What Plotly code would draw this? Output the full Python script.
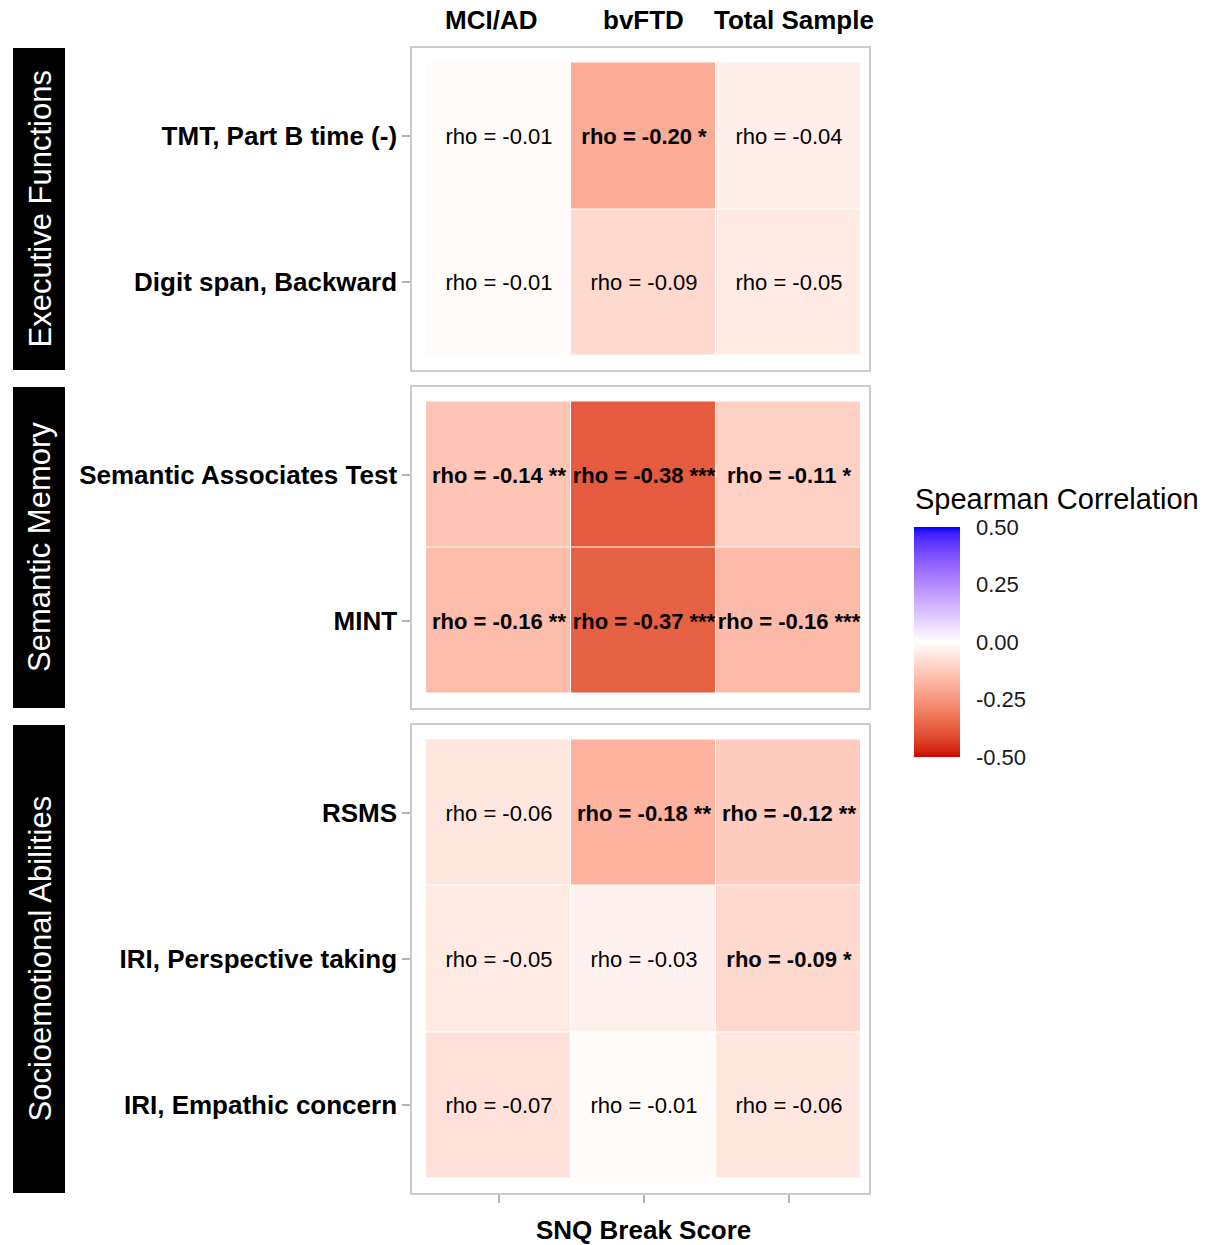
import plotly.graph_objects as go
from plotly.subplots import make_subplots

# ---------------- data ----------------
columns = ["MCI/AD", "bvFTD", "Total Sample"]
domains = ["Executive Functions", "Semantic Memory", "Socioemotional Abilities"]
measures = [
    ["TMT, Part B time (-)", "Digit span, Backward"],
    ["Semantic Associates Test", "MINT"],
    ["RSMS", "IRI, Perspective taking", "IRI, Empathic concern"],
]
rho_mci = [-0.01, -0.01, -0.14, -0.158, -0.06, -0.05, -0.07]
rho_bvftd = [-0.20, -0.09, -0.38, -0.37, -0.18, -0.03, -0.01]
rho_total = [-0.04, -0.05, -0.11, -0.164, -0.12, -0.09, -0.06]
sig_mci = ["", "", "**", "**", "", "", ""]
sig_bvftd = ["*", "", "***", "***", "**", "", ""]
sig_total = ["", "", "*", "***", "**", "*", ""]
cbar_ticks = [-0.50, -0.25, 0.00, 0.25, 0.50]

# ---------------- colour scale (Lab interpolation, like ggplot gradient2) ----------------
def _lin(c):
    c = c / 255
    return c / 12.92 if c <= 0.04045 else ((c + 0.055) / 1.055) ** 2.4

def _delin(c):
    c = 12.92 * c if c <= 0.0031308 else 1.055 * max(c, 0) ** (1 / 2.4) - 0.055
    return max(0, min(255, round(c * 255)))

def hex_to_lab(h):
    r, g, b = [_lin(int(h[i:i + 2], 16)) for i in (1, 3, 5)]
    X = (0.4124 * r + 0.3576 * g + 0.1805 * b) / 0.95047
    Y = 0.2126 * r + 0.7152 * g + 0.0722 * b
    Z = (0.0193 * r + 0.1192 * g + 0.9505 * b) / 1.08883
    f = lambda t: t ** (1 / 3) if t > 0.008856 else 7.787 * t + 16 / 116
    return 116 * f(Y) - 16, 500 * (f(X) - f(Y)), 200 * (f(Y) - f(Z))

def lab_to_hex(L, a, b):
    fy = (L + 16) / 116
    fx = fy + a / 500
    fz = fy - b / 200
    finv = lambda t: t ** 3 if t ** 3 > 0.008856 else (t - 16 / 116) / 7.787
    X, Y, Z = finv(fx) * 0.95047, finv(fy), finv(fz) * 1.08883
    r = 3.2406 * X - 1.5372 * Y - 0.4986 * Z
    g = -0.9689 * X + 1.8758 * Y + 0.0415 * Z
    bb = 0.0557 * X - 0.2040 * Y + 1.0570 * Z
    return "#%02x%02x%02x" % (_delin(r), _delin(g), _delin(bb))

LOW, MID, HIGH = "#CD0000", "#FFFFFF", "#0000FF"
lo, mi, hi = hex_to_lab(LOW), hex_to_lab(MID), hex_to_lab(HIGH)
colorscale = []
N = 40
for i in range(N + 1):
    t = i / N
    if t <= 0.5:
        w = t / 0.5
        lab = [lo[k] + (mi[k] - lo[k]) * w for k in range(3)]
    else:
        w = (t - 0.5) / 0.5
        lab = [mi[k] + (hi[k] - mi[k]) * w for k in range(3)]
    colorscale.append([t, lab_to_hex(*lab)])

# ---------------- layout geometry (pixels) ----------------
W, H = 1209, 1245
px = lambda x: x / W
py = lambda y: 1 - y / H
panels_px = [(48, 370), (387, 708), (725, 1193)]
x_left, x_right = 412, 869
colw = 145.0
FONT = "Liberation Sans, Arial, Helvetica, sans-serif"

fig = make_subplots(rows=3, cols=1)

all_rho = [rho_mci, rho_bvftd, rho_total]
all_sig = [sig_mci, sig_bvftd, sig_total]

idx = 0
for p, rows in enumerate(measures):
    z, txt = [], []
    for r, _m in enumerate(rows):
        zr, tr = [], []
        for c in range(3):
            v = all_rho[c][idx + r]
            s = all_sig[c][idx + r]
            zr.append(v)
            label = f"rho = {v:.2f}" + (f" {s}" if s else "")
            tr.append(f"<b>{label}</b>" if s else label)
        z.append(zr)
        txt.append(tr)
    idx += len(rows)
    fig.add_trace(
        go.Heatmap(
            z=z, x=[0, 1, 2], y=list(range(len(rows))),
            text=txt, texttemplate="%{text}",
            textfont=dict(size=22, color="black", family=FONT),
            coloraxis="coloraxis", xgap=1, ygap=1, hoverinfo="skip",
        ),
        row=p + 1, col=1,
    )
    y0, y1 = panels_px[p]
    n = len(rows)
    rowh = (y1 - y0 - 29) / n
    pad = 14.5 / rowh
    ax = "" if p == 0 else str(p + 1)
    fig.layout["xaxis" + ax].update(
        domain=[px(x_left), px(x_right)],
        range=[-0.5 - 14 / colw, 2.5 + 8 / colw],
        tickvals=[0, 1, 2], showticklabels=False,
        ticks="outside" if p == 2 else "", ticklen=8, tickcolor="#B3B3B3", tickwidth=1.5,
        showgrid=False, zeroline=False,
        showline=True, mirror=True, linecolor="#CCCCCC", linewidth=1.5,
    )
    fig.layout["yaxis" + ax].update(
        domain=[py(y1), py(y0)],
        range=[n - 0.5 + pad, -0.5 - pad],
        tickvals=list(range(n)), ticktext=rows,
        tickfont=dict(size=26, color="black", family=FONT, weight="bold"),
        ticks="outside", ticklen=8, tickcolor="#B3B3B3", tickwidth=1.5,
        ticklabelstandoff=0,
        showgrid=False, zeroline=False,
        showline=True, mirror=True, linecolor="#CCCCCC", linewidth=1.5,
    )
    # strip
    fig.add_shape(type="rect", xref="paper", yref="paper",
                  x0=px(13), x1=px(65), y0=py(y1), y1=py(y0),
                  fillcolor="black", line=dict(width=0))
    fig.add_annotation(text=domains[p], xref="paper", yref="paper",
                       x=px(39.5), y=py((y0 + y1) / 2), textangle=-90,
                       xanchor="center", yanchor="middle",
                       showarrow=False, font=dict(size=31, color="white", family=FONT))

# column headers
header_px = [491, 643, 794]
for name, hx in zip(columns, header_px):
    fig.add_annotation(text=f"<b>{name}</b>", xref="paper", yref="paper",
                       x=px(hx), y=py(20), xanchor="center", yanchor="middle",
                       showarrow=False,
                       font=dict(size=26, color="black", family=FONT))

# x title
fig.add_annotation(text="<b>SNQ Break Score</b>", xref="paper", yref="paper",
                   x=px(643), y=py(1230), xanchor="center", yanchor="middle",
                   showarrow=False,
                   font=dict(size=26, color="black", family=FONT))

# colour bar title
fig.add_annotation(text="Spearman Correlation", xref="paper", yref="paper",
                   x=px(913), y=py(499), xanchor="left", yanchor="middle",
                   showarrow=False,
                   font=dict(size=29, color="black", family=FONT))

cb_top, cb_bot, cb_l, cb_r = 527, 757, 914, 960
fig.update_layout(
    width=W, height=H,
    margin=dict(l=0, r=0, t=0, b=0),
    paper_bgcolor="white", plot_bgcolor="white",
    font=dict(family=FONT, color="black"),
    coloraxis=dict(
        colorscale=colorscale, cmin=-0.5, cmax=0.5,
        colorbar=dict(
            x=px(cb_l), xanchor="left", xpad=0,
            y=py((cb_top + cb_bot) / 2), yanchor="middle", ypad=0,
            len=cb_bot - cb_top, lenmode="pixels",
            thickness=cb_r - cb_l, thicknessmode="pixels",
            outlinewidth=0,
            tickvals=cbar_ticks, ticktext=[f"{t:.2f}" for t in cbar_ticks],
            ticks="outside", ticklen=12, tickcolor="rgba(0,0,0,0)",
            tickfont=dict(size=22, color="#1a1a1a", family=FONT),
        ),
    ),
)

# white tick marks on both edges of colour bar
for t in cbar_ticks[1:-1]:
    yy = cb_bot - (t + 0.5) * (cb_bot - cb_top)
    for xa, xb in [(cb_l, cb_l + 6), (cb_r - 6, cb_r)]:
        fig.add_shape(type="line", xref="paper", yref="paper",
                      x0=px(xa), x1=px(xb), y0=py(yy), y1=py(yy),
                      line=dict(color="white", width=1.5))

fig.write_html(
    "out.html",
    config={"displayModeBar": False},
    post_script="document.body.style.margin='0';document.body.style.overflow='hidden';",
)
